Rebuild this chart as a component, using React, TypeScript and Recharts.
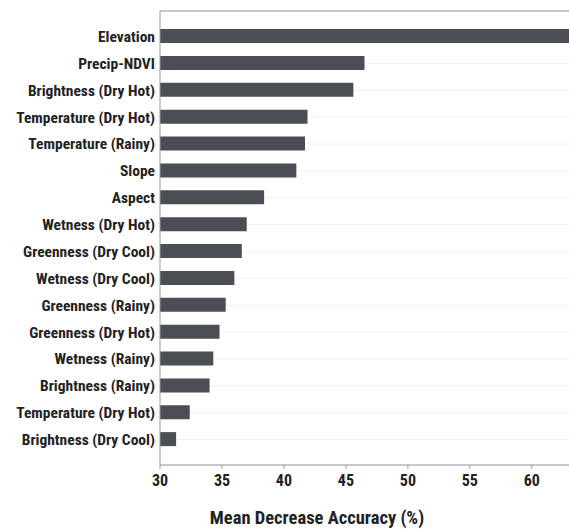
import { Bar, BarChart, CartesianGrid, XAxis, YAxis } from 'recharts';

const variables = [
  'Elevation',
  'Precip-NDVI',
  'Brightness (Dry Hot)',
  'Temperature (Dry Hot)',
  'Temperature (Rainy)',
  'Slope',
  'Aspect',
  'Wetness (Dry Hot)',
  'Greenness (Dry Cool)',
  'Wetness (Dry Cool)',
  'Greenness (Rainy)',
  'Greenness (Dry Hot)',
  'Wetness (Rainy)',
  'Brightness (Rainy)',
  'Temperature (Dry Hot) ',
  'Brightness (Dry Cool)',
];

const accuracy = [63.2, 46.5, 45.6, 41.9, 41.7, 41.0, 38.4, 37.0, 36.6, 36.0, 35.3, 34.8, 34.3, 34.0, 32.4, 31.3];

const xTicks = [30, 35, 40, 45, 50, 55, 60];

const data = variables.map((name, i) => ({ name, value: accuracy[i] }));

const font = '"Roboto Condensed", "Liberation Sans Narrow", sans-serif';
const axisGray = '#9a9a9a';

export default function App() {
  return (
    <div
      style={{
        position: 'fixed',
        left: 0,
        top: 0,
        width: 569,
        height: 529,
        overflow: 'hidden',
        background: '#fff',
      }}
    >
      <BarChart
        width={600}
        height={529}
        data={data}
        layout="vertical"
        margin={{ top: 10, right: 0, left: 0, bottom: 0 }}
      >
        <CartesianGrid vertical={false} stroke="#f1f1f1" />
        <XAxis
          type="number"
          domain={[30, 65.5]}
          ticks={xTicks}
          allowDataOverflow
          height={64}
          tickSize={4}
          tickMargin={6}
          axisLine={{ stroke: axisGray }}
          tickLine={{ stroke: axisGray }}
          tick={{ fill: '#222', fontSize: 16, fontFamily: font, fontWeight: 'bold' }}
          label={{
            value: 'Mean Decrease Accuracy (%)',
            position: 'insideBottom',
            offset: 5,
            dx: -63,
            fill: '#222',
            fontSize: 18.5,
            fontFamily: font,
            fontWeight: 'bold',
          }}
        />
        <XAxis
          xAxisId="top"
          orientation="top"
          type="number"
          domain={[30, 65.5]}
          height={1}
          tick={false}
          tickLine={false}
          axisLine={{ stroke: axisGray }}
        />
        <YAxis
          type="category"
          dataKey="name"
          width={160}
          interval={0}
          padding={{ top: 12, bottom: 12 }}
          tickSize={0}
          tickMargin={5}
          axisLine={{ stroke: axisGray }}
          tickLine={false}
          tick={{ fill: '#222', fontSize: 15.5, fontFamily: font, fontWeight: 'bold' }}
        />
        <Bar dataKey="value" fill="#4b4e55" barSize={14} isAnimationActive={false} />
      </BarChart>
    </div>
  );
}
